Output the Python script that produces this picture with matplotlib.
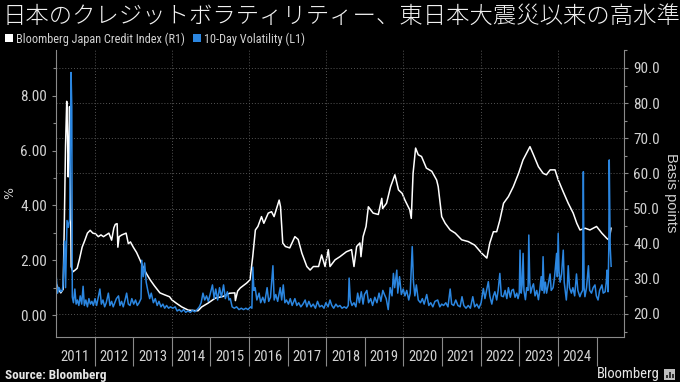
import matplotlib
matplotlib.use("Agg")
import matplotlib.pyplot as plt
from matplotlib.ticker import MultipleLocator, FormatStrFormatter
from matplotlib.patches import Patch, Rectangle
from matplotlib import font_manager
import pandas as pd

title = "日本のクレジットボラティリティー、東日本大震災以来の高水準"
credit_label = "Bloomberg Japan Credit Index (R1)"
vol_label = "10-Day Volatility (L1)"
years = list(range(2011, 2025))

# Bloomberg Japan Credit Index, basis points (right axis)
credit_index = [
    ("2011-01-04", 28.5), ("2011-01-25", 27.0), ("2011-02-15", 26.0), ("2011-03-09", 27.0),
    ("2011-03-20", 45.0), ("2011-04-01", 68.0), ("2011-04-12", 80.5), ("2011-04-18", 74.0),
    ("2011-04-26", 59.0), ("2011-05-02", 66.0), ("2011-05-09", 79.0), ("2011-05-16", 60.0),
    ("2011-05-24", 33.5), ("2011-06-10", 32.0), ("2011-07-01", 32.5), ("2011-07-20", 33.0),
    ("2011-08-10", 35.5), ("2011-09-05", 39.0), ("2011-10-01", 41.0), ("2011-10-25", 43.0),
    ("2011-11-20", 43.8), ("2011-12-15", 43.0),
    ("2012-01-10", 42.8), ("2012-02-05", 42.0), ("2012-03-01", 42.5), ("2012-03-25", 42.0),
    ("2012-04-20", 42.5), ("2012-05-15", 43.0), ("2012-06-10", 41.0), ("2012-07-01", 44.5),
    ("2012-07-15", 45.5), ("2012-08-01", 45.7), ("2012-08-08", 39.0), ("2012-08-20", 42.0),
    ("2012-09-15", 42.5), ("2012-10-25", 43.0), ("2012-11-15", 40.0), ("2012-12-05", 40.5),
    ("2013-01-01", 39.0), ("2013-02-01", 37.5), ("2013-03-05", 35.4), ("2013-04-01", 33.5),
    ("2013-05-05", 31.5), ("2013-06-10", 29.7), ("2013-07-20", 28.0), ("2013-09-10", 26.0),
    ("2013-10-20", 25.5), ("2013-12-10", 24.9),
    ("2014-01-01", 24.0), ("2014-02-15", 23.0), ("2014-04-05", 22.0), ("2014-06-05", 21.1),
    ("2014-07-20", 21.0), ("2014-09-05", 20.9), ("2014-10-10", 22.0), ("2014-12-10", 23.1),
    ("2015-02-15", 24.5), ("2015-05-01", 25.0), ("2015-07-01", 25.9), ("2015-08-20", 26.0),
    ("2015-08-25", 23.8), ("2015-09-15", 26.5), ("2015-10-10", 27.4), ("2015-12-10", 28.8),
    ("2016-01-10", 29.7), ("2016-02-05", 36.3), ("2016-03-01", 43.9), ("2016-03-25", 44.9),
    ("2016-04-28", 47.7), ("2016-05-20", 45.8), ("2016-07-01", 48.7), ("2016-08-01", 49.1),
    ("2016-08-25", 47.7), ("2016-10-12", 52.4), ("2016-10-25", 50.5), ("2016-11-15", 40.2),
    ("2016-12-10", 39.2),
    ("2017-01-20", 38.8), ("2017-03-10", 42.0), ("2017-04-10", 41.2), ("2017-05-15", 37.3),
    ("2017-07-01", 33.5), ("2017-08-01", 32.5), ("2017-09-01", 33.5), ("2017-10-20", 33.5),
    ("2017-11-18", 36.8), ("2017-12-20", 33.5),
    ("2018-01-20", 38.3), ("2018-02-05", 33.5), ("2018-03-25", 35.4), ("2018-05-10", 36.3),
    ("2018-07-10", 37.7), ("2018-08-28", 38.3), ("2018-09-20", 33.5), ("2018-10-15", 39.2),
    ("2018-11-15", 40.2), ("2018-11-25", 36.3), ("2018-12-15", 42.0),
    ("2019-01-12", 44.9), ("2019-02-03", 50.5), ("2019-03-20", 48.7), ("2019-05-08", 48.3),
    ("2019-06-10", 52.9), ("2019-06-18", 50.0), ("2019-07-25", 51.5), ("2019-09-01", 56.2),
    ("2019-10-12", 59.6), ("2019-11-15", 55.3), ("2019-12-20", 54.3),
    ("2020-01-15", 52.4), ("2020-03-01", 49.6), ("2020-03-15", 47.2), ("2020-04-01", 60.0),
    ("2020-04-25", 67.2), ("2020-05-20", 65.3), ("2020-06-20", 64.8), ("2020-08-05", 61.5),
    ("2020-09-25", 60.6), ("2020-11-10", 58.1), ("2020-11-25", 56.2), ("2020-12-28", 47.7),
    ("2021-01-30", 45.8), ("2021-03-18", 43.9), ("2021-05-05", 43.0), ("2021-07-05", 41.1),
    ("2021-09-05", 40.6), ("2021-11-05", 39.6),
    ("2022-01-10", 37.3), ("2022-02-28", 35.9), ("2022-03-28", 40.2), ("2022-05-01", 43.4),
    ("2022-06-01", 43.4), ("2022-07-01", 46.7), ("2022-08-05", 51.5), ("2022-09-20", 53.4),
    ("2022-11-05", 56.2), ("2022-12-25", 60.0),
    ("2023-02-05", 63.8), ("2023-03-10", 65.7), ("2023-04-12", 67.6), ("2023-05-15", 65.3),
    ("2023-07-01", 61.9), ("2023-08-15", 60.0), ("2023-09-15", 59.6), ("2023-10-20", 61.0),
    ("2023-12-05", 61.0),
    ("2024-01-05", 58.1), ("2024-02-20", 54.8), ("2024-04-08", 51.5), ("2024-05-25", 48.7),
    ("2024-06-28", 45.8), ("2024-07-28", 43.9), ("2024-09-15", 44.4), ("2024-10-30", 43.9),
    ("2025-01-01", 44.9), ("2025-02-20", 43.0), ("2025-04-08", 41.5), ("2025-04-30", 41.0),
    ("2025-05-18", 44.4),
]

# 10-day volatility, percent (left axis)
volatility = [
    ("2011-01-03", 1.40), ("2011-01-15", 0.80), ("2011-01-30", 1.00), ("2011-02-15", 0.85),
    ("2011-03-01", 0.90), ("2011-03-08", 1.10), ("2011-03-24", 2.70), ("2011-04-01", 1.00),
    ("2011-04-15", 3.45), ("2011-04-28", 3.20), ("2011-05-10", 3.50), ("2011-05-23", 8.85),
    ("2011-05-30", 7.60), ("2011-06-04", 0.66), ("2011-06-15", 0.45), ("2011-06-28", 0.95),
    ("2011-07-10", 0.40), ("2011-07-22", 0.55), ("2011-08-05", 0.35), ("2011-08-18", 0.70),
    ("2011-09-01", 0.40), ("2011-09-14", 1.05), ("2011-09-26", 0.35), ("2011-10-10", 0.55),
    ("2011-10-25", 0.30), ("2011-11-08", 0.60), ("2011-11-22", 0.40), ("2011-12-06", 0.50),
    ("2011-12-20", 0.35),
    ("2012-01-05", 0.60), ("2012-01-20", 0.35), ("2012-02-20", 0.95), ("2012-03-05", 0.40),
    ("2012-03-20", 0.55), ("2012-04-05", 0.30), ("2012-04-20", 0.45), ("2012-05-10", 0.80),
    ("2012-05-25", 0.35), ("2012-06-10", 0.50), ("2012-06-25", 0.30), ("2012-07-10", 0.45),
    ("2012-07-25", 0.60), ("2012-08-14", 0.70), ("2012-08-28", 0.35), ("2012-09-12", 0.50),
    ("2012-09-28", 0.30), ("2012-10-15", 0.55), ("2012-10-30", 0.80), ("2012-11-15", 0.40),
    ("2012-12-01", 0.35), ("2012-12-18", 0.60),
    ("2013-01-05", 0.40), ("2013-01-22", 0.55), ("2013-02-08", 0.35), ("2013-02-25", 0.45),
    ("2013-03-15", 0.60), ("2013-03-22", 2.00), ("2013-04-05", 1.40), ("2013-04-18", 1.90),
    ("2013-05-03", 1.20), ("2013-05-18", 0.90), ("2013-06-05", 0.60), ("2013-06-20", 0.80),
    ("2013-07-10", 0.45), ("2013-07-28", 0.60), ("2013-08-15", 0.35), ("2013-09-01", 0.50),
    ("2013-09-20", 0.30), ("2013-10-08", 0.40), ("2013-10-25", 0.25), ("2013-11-12", 0.35),
    ("2013-12-01", 0.25), ("2013-12-18", 0.30),
    ("2014-01-10", 0.25), ("2014-02-01", 0.30), ("2014-02-20", 0.15), ("2014-03-12", 0.20),
    ("2014-04-01", 0.12), ("2014-04-22", 0.20), ("2014-05-12", 0.10), ("2014-06-02", 0.15),
    ("2014-06-25", 0.10), ("2014-07-15", 0.18), ("2014-08-05", 0.12), ("2014-08-28", 0.20),
    ("2014-09-18", 0.30), ("2014-10-05", 0.45), ("2014-10-22", 0.80), ("2014-11-08", 0.55),
    ("2014-11-25", 0.70), ("2014-12-12", 0.50), ("2014-12-28", 0.75),
    ("2015-01-20", 1.10), ("2015-02-05", 0.60), ("2015-02-20", 0.95), ("2015-03-10", 0.55),
    ("2015-03-28", 1.00), ("2015-04-15", 0.65), ("2015-05-05", 1.10), ("2015-05-22", 0.60),
    ("2015-06-10", 0.85), ("2015-06-25", 0.55), ("2015-07-08", 0.60), ("2015-07-25", 0.30),
    ("2015-08-15", 0.25), ("2015-09-05", 0.30), ("2015-09-28", 0.20), ("2015-10-20", 0.25),
    ("2015-11-10", 0.20), ("2015-12-02", 0.25), ("2015-12-22", 0.20),
    ("2016-01-15", 0.30), ("2016-01-28", 0.25), ("2016-02-06", 1.75), ("2016-02-16", 0.90),
    ("2016-02-28", 1.00), ("2016-03-15", 0.55), ("2016-04-05", 0.80), ("2016-04-20", 0.45),
    ("2016-05-10", 0.65), ("2016-05-28", 0.45), ("2016-06-20", 1.00), ("2016-07-05", 0.50),
    ("2016-07-22", 0.65), ("2016-08-14", 1.80), ("2016-08-26", 0.55), ("2016-09-10", 0.75),
    ("2016-09-28", 0.50), ("2016-10-22", 1.00), ("2016-11-05", 0.55), ("2016-11-20", 1.10),
    ("2016-12-05", 0.45), ("2016-12-20", 0.55),
    ("2017-01-08", 0.40), ("2017-01-25", 0.60), ("2017-02-12", 0.35), ("2017-03-10", 0.60),
    ("2017-03-28", 0.35), ("2017-04-15", 0.45), ("2017-05-05", 0.30), ("2017-05-25", 0.40),
    ("2017-06-15", 0.55), ("2017-07-01", 0.30), ("2017-07-20", 0.50), ("2017-08-10", 0.30),
    ("2017-08-30", 0.40), ("2017-09-20", 0.25), ("2017-10-10", 0.50), ("2017-10-30", 0.30),
    ("2017-11-20", 0.35), ("2017-12-10", 0.25), ("2017-12-28", 0.45),
    ("2018-01-18", 0.30), ("2018-02-05", 0.55), ("2018-02-22", 0.35), ("2018-03-12", 0.25),
    ("2018-04-02", 0.40), ("2018-04-20", 0.30), ("2018-05-10", 0.35), ("2018-05-30", 0.25),
    ("2018-06-20", 0.30), ("2018-07-10", 0.25), ("2018-07-28", 0.35), ("2018-08-05", 1.35),
    ("2018-08-16", 0.55), ("2018-09-01", 0.35), ("2018-09-20", 0.45), ("2018-10-08", 0.30),
    ("2018-10-25", 0.80), ("2018-11-10", 0.45), ("2018-11-28", 0.85), ("2018-12-15", 0.40),
    ("2018-12-28", 0.75),
    ("2019-01-20", 0.90), ("2019-02-05", 0.45), ("2019-02-25", 0.60), ("2019-03-15", 0.35),
    ("2019-04-05", 0.65), ("2019-04-25", 0.45), ("2019-05-15", 0.80), ("2019-06-01", 0.50),
    ("2019-06-20", 0.90), ("2019-07-05", 0.75), ("2019-07-22", 0.60), ("2019-08-10", 0.20),
    ("2019-08-28", 1.00), ("2019-09-15", 0.70), ("2019-09-28", 1.52), ("2019-10-10", 1.00),
    ("2019-10-30", 1.64), ("2019-11-08", 0.80), ("2019-11-25", 1.40), ("2019-12-12", 0.75),
    ("2019-12-30", 0.95),
    ("2020-01-15", 0.70), ("2020-02-01", 0.90), ("2020-02-20", 0.55), ("2020-03-05", 0.80),
    ("2020-03-24", 2.50), ("2020-04-05", 1.20), ("2020-04-18", 0.70), ("2020-05-02", 1.10),
    ("2020-05-20", 0.55), ("2020-06-10", 0.45), ("2020-06-28", 0.60), ("2020-07-15", 0.40),
    ("2020-08-08", 0.75), ("2020-08-28", 0.35), ("2020-09-15", 0.45), ("2020-10-05", 0.30),
    ("2020-10-25", 0.50), ("2020-11-20", 0.55), ("2020-12-10", 0.30), ("2020-12-28", 0.40),
    ("2021-01-15", 0.35), ("2021-02-05", 0.45), ("2021-02-25", 0.30), ("2021-03-18", 0.95),
    ("2021-04-01", 0.40), ("2021-04-20", 0.35), ("2021-05-10", 0.55), ("2021-05-30", 0.35),
    ("2021-06-20", 0.30), ("2021-07-08", 0.67), ("2021-07-25", 0.35), ("2021-08-15", 0.25),
    ("2021-09-05", 0.35), ("2021-09-25", 0.25), ("2021-10-18", 0.67), ("2021-11-05", 0.30),
    ("2021-11-25", 0.40), ("2021-12-15", 0.25),
    ("2022-01-05", 0.45), ("2022-01-26", 0.97), ("2022-02-10", 0.60), ("2022-02-25", 0.90),
    ("2022-03-14", 1.22), ("2022-03-28", 0.70), ("2022-04-16", 0.40), ("2022-05-01", 0.70),
    ("2022-05-15", 0.85), ("2022-06-01", 0.55), ("2022-06-15", 0.90), ("2022-07-01", 1.52),
    ("2022-07-15", 0.70), ("2022-08-03", 0.67), ("2022-08-20", 0.90), ("2022-09-05", 0.60),
    ("2022-09-20", 1.00), ("2022-10-08", 0.65), ("2022-10-22", 0.90), ("2022-11-06", 0.94),
    ("2022-11-22", 0.65), ("2022-12-08", 0.80), ("2022-12-20", 0.60),
    ("2023-01-01", 0.80), ("2023-01-08", 2.37), ("2023-01-19", 0.80), ("2023-01-28", 1.10),
    ("2023-02-06", 2.25), ("2023-02-14", 0.90), ("2023-02-28", 0.56), ("2023-03-12", 1.00),
    ("2023-03-25", 0.90), ("2023-04-01", 2.92), ("2023-04-10", 1.20), ("2023-04-19", 0.80),
    ("2023-05-01", 1.00), ("2023-05-15", 1.14), ("2023-05-30", 0.70), ("2023-06-15", 0.90),
    ("2023-07-01", 0.56), ("2023-07-14", 0.90), ("2023-07-27", 1.40), ("2023-08-06", 0.90),
    ("2023-08-14", 2.13), ("2023-08-24", 0.80), ("2023-09-05", 1.20), ("2023-09-16", 0.80),
    ("2023-10-01", 1.10), ("2023-10-19", 1.50), ("2023-10-30", 0.90), ("2023-11-17", 1.00),
    ("2023-12-01", 1.40), ("2023-12-20", 2.25), ("2023-12-27", 1.40),
    ("2024-01-04", 2.98), ("2024-01-12", 1.60), ("2024-01-22", 1.20), ("2024-02-05", 1.50),
    ("2024-02-21", 2.37), ("2024-03-01", 1.20), ("2024-03-21", 0.55), ("2024-03-30", 1.00),
    ("2024-04-08", 1.80), ("2024-04-20", 1.00), ("2024-05-08", 0.80), ("2024-05-22", 1.00),
    ("2024-06-08", 0.70), ("2024-06-25", 1.50), ("2024-07-08", 0.90), ("2024-07-27", 0.67),
    ("2024-08-08", 0.80), ("2024-08-22", 0.90), ("2024-08-29", 5.23), ("2024-09-05", 1.00),
    ("2024-09-13", 0.67), ("2024-09-28", 1.00), ("2024-10-16", 1.80), ("2024-10-28", 0.90),
    ("2024-11-14", 0.80), ("2024-11-30", 1.00), ("2024-12-17", 1.10), ("2024-12-30", 0.70),
    ("2025-01-15", 0.55), ("2025-01-30", 0.90), ("2025-02-21", 1.10), ("2025-03-05", 0.80),
    ("2025-03-23", 0.85), ("2025-04-03", 1.20), ("2025-04-10", 1.64), ("2025-04-20", 0.85),
    ("2025-04-27", 2.50), ("2025-05-01", 5.66), ("2025-05-10", 2.50), ("2025-05-19", 1.78),
]

BG = "black"
WHITE = "#ffffff"
BLUE = "#2b86e0"
TXT = "#d2d2d2"
AXC = "#8a8a8a"
GRID = "#555555"
CJK = ["Noto Sans CJK JP", "DejaVu Sans"]

# a condensed face for the Bloomberg-style small text, if one is installed
_names = {f.name for f in font_manager.fontManager.ttflist}
_narrow = [n for n in ("Liberation Sans Narrow", "Roboto Condensed", "Open Sans Condensed") if n in _names]
if _narrow:
    NARROW = dict(family=[_narrow[0], "DejaVu Sans"], stretch="normal")
else:
    NARROW = dict(family=["DejaVu Sans"], stretch="condensed")

credit = pd.DataFrame(credit_index, columns=["date", "bp"])
credit["date"] = pd.to_datetime(credit["date"])
vol = pd.DataFrame(volatility, columns=["date", "pct"])
vol["date"] = pd.to_datetime(vol["date"])

fig = plt.figure(figsize=(6.8, 3.82), dpi=100, facecolor=BG)
ax = fig.add_axes([0.0824, 0.1178, 0.8353, 0.7513])
ax2 = ax.twinx()

# volatility (left) drawn above the index (right)
ax.set_zorder(2)
ax2.set_zorder(1)
ax.patch.set_visible(False)
ax2.patch.set_facecolor(BG)

ax2.plot(credit["date"], credit["bp"], color=WHITE, lw=1.1)
ax.plot(vol["date"], vol["pct"], color=BLUE, lw=1.1)

ax.set_xlim(pd.Timestamp("2011-01-01"), pd.Timestamp("2025-09-18"))
ax.set_ylim(-0.80, 9.67)
ax2.set_ylim(13.45, 95.1)

# grid
ax2.yaxis.set_major_locator(MultipleLocator(10))
ax2.yaxis.set_minor_locator(MultipleLocator(5))
ax2.yaxis.grid(True, color=GRID, linestyle=(0, (1, 2)), lw=0.7)
for y in range(2012, 2025, 2):
    ax2.axvline(pd.Timestamp(f"{y}-01-01"), color=GRID, linestyle=(0, (1, 2)), lw=0.7)

# left axis
ax.yaxis.set_major_locator(MultipleLocator(2))
ax.yaxis.set_minor_locator(MultipleLocator(1))
ax.yaxis.set_major_formatter(FormatStrFormatter("%.2f"))
ax2.yaxis.set_major_formatter(FormatStrFormatter("%.1f"))

# x axis: separators at year starts, labels mid-year
ax.set_xticks([pd.Timestamp(f"{y}-01-01") for y in range(2012, 2026)])
ax.set_xticklabels([])
ax.set_xticks([pd.Timestamp(f"{y}-07-02") for y in years], labels=[str(y) for y in years], minor=True)
ax.tick_params(axis="x", which="major", length=21, color=AXC, width=0.8)
ax.tick_params(axis="x", which="minor", length=0, pad=9, labelcolor=TXT, labelsize=10.5)

for a in (ax, ax2):
    a.tick_params(axis="y", which="major", length=3, color=AXC, width=0.8, labelcolor=TXT, labelsize=11)
    a.tick_params(axis="y", which="minor", length=2, color=AXC, width=0.8)
    for s in a.spines.values():
        s.set_visible(False)
ax.spines["left"].set_visible(True)
ax.spines["bottom"].set_visible(True)
ax2.spines["right"].set_visible(True)
for s in (ax.spines["left"], ax.spines["bottom"], ax2.spines["right"]):
    s.set_color(AXC)
    s.set_linewidth(0.8)

for lab in ax.get_xticklabels(minor=True) + ax.get_yticklabels() + ax2.get_yticklabels():
    lab.set_family(NARROW["family"])
    lab.set_stretch(NARROW["stretch"])

# texts
fig.text(0.004, 0.958, title, fontsize=16.8, color="#f2f2f2", family=CJK,
         fontweight="light", va="center", ha="left")
fig.legend(handles=[Patch(facecolor=WHITE), Patch(facecolor=BLUE)],
           labels=[credit_label, vol_label], loc="center left",
           bbox_to_anchor=(0.0074, 0.898), ncol=2, frameon=False,
           handlelength=0.65, handleheight=0.65, handletextpad=0.25,
           columnspacing=0.7, borderaxespad=0, borderpad=0,
           labelcolor=TXT, prop=dict(size=8.8, **NARROW))

fig.text(10 / 680, 1 - 193 / 382, "%", rotation=90, color=TXT, fontsize=9,
         ha="center", va="center")
fig.text(671 / 680, 1 - 193 / 382, "Basis points", rotation=270, color=TXT,
         fontsize=10.5, family=["Liberation Sans", "DejaVu Sans"], ha="center", va="center")
fig.text(5 / 680, 1 - 375 / 382, "Source: Bloomberg", color="#e6e6e6", fontsize=9.5,
         fontweight="bold", ha="left", va="center", **NARROW)
fig.text(660 / 680, 1 - 374 / 382, "Bloomberg", color="#e6e6e6", fontsize=10.5,
         ha="right", va="center", **NARROW)
fig.patches.append(Rectangle((664 / 680, 1 - 380 / 382), 11 / 680, 11 / 382,
                             transform=fig.transFigure, facecolor="#bdbdbd", edgecolor="none"))
for i, h in enumerate([3, 6, 4]):
    fig.patches.append(Rectangle(((666 + 3 * i) / 680, 1 - 378 / 382), 2 / 680, h / 382,
                                 transform=fig.transFigure, facecolor="#333333", edgecolor="none"))

fig.savefig("out.png", dpi=100, facecolor=BG)
